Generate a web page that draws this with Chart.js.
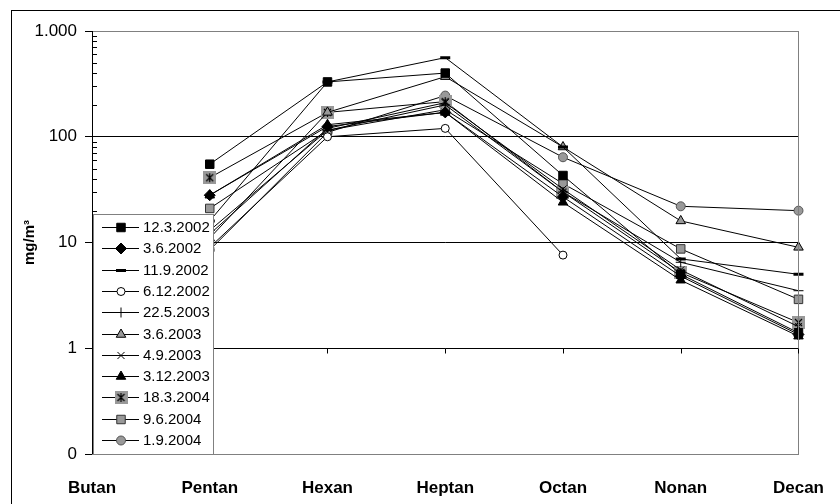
<!DOCTYPE html>
<html>
<head>
<meta charset="utf-8">
<script src="https://cdn.jsdelivr.net/npm/chart.js@4"></script>
<style>
  body { margin: 0; background: #fff; }
  canvas { display: block; }
</style>
</head>
<body>
<canvas id="chart" width="840" height="504"></canvas>
<script>
// categories and values (mg/m3, log axis)
const categories = ['Butan', 'Pentan', 'Hexan', 'Heptan', 'Octan', 'Nonan', 'Decan'];
const yTicks = [0.1, 1, 10, 100, 1000];
const yTickLabels = ['0', '1', '10', '100', '1.000'];

const s120302 = [null, 55, 330, 400, 43, 5.0, 1.4];
const s030602 = [null, 28, 125, 170, 27, 4.8, 1.35];
const s110902 = [null, 16, 330, 560, 80, 7.0, 5.0];
const s061202 = [null, 9, 100, 120, 7.6, null, null];
const s220503 = [null, 13, 115, 200, 30, 6.5, 3.5];
const s030603 = [null, 11, 170, 370, 80, 16, 9];
const s040903 = [null, 12, 120, 210, 32, 5.5, 1.6];
const s031203 = [null, 28, 130, 170, 24, 4.4, 1.3];
const s180304 = [null, 41, 170, 215, 30, 5.2, 1.75];
const s090604 = [null, 21, 115, 180, 36, 8.7, 2.9];
const s010904 = [null, 8.5, 110, 245, 64, 22, 20];

const GRAY = '#999999';
const FONT = "'Liberation Sans', Arial, sans-serif";

// grey box with an asterisk for 18.3.2004
function makeStarBox() {
  const c = document.createElement('canvas');
  c.width = 13; c.height = 13;
  const g = c.getContext('2d');
  g.fillStyle = GRAY;
  g.fillRect(0, 0, 13, 13);
  g.strokeStyle = '#000';
  g.lineWidth = 1.2;
  g.beginPath();
  g.moveTo(3, 3); g.lineTo(10, 10);
  g.moveTo(10, 3); g.lineTo(3, 10);
  g.moveTo(6.5, 2); g.lineTo(6.5, 11);
  g.stroke();
  return c;
}
const starBox = makeStarBox();

function ds(label, data, style, radius, fill, border, bw) {
  return {
    label: label,
    data: data,
    borderColor: '#000',
    borderWidth: 1,
    pointStyle: style,
    pointRadius: radius,
    pointBackgroundColor: fill,
    pointBorderColor: border,
    pointBorderWidth: bw,
    fill: false,
    tension: 0,
    spanGaps: false
  };
}

const datasets = [
  ds('12.3.2002', s120302, 'rect', 6, '#000', '#000', 1),
  ds('3.6.2002', s030602, 'rectRot', 5.5, '#000', '#000', 1),
  ds('11.9.2002', s110902, 'line', 5, '#000', '#000', 3),
  ds('6.12.2002', s061202, 'circle', 4, '#fff', '#000', 1),
  ds('22.5.2003', s220503, 'cross', 5, '#000', '#000', 1),
  ds('3.6.2003', s030603, 'triangle', 5.5, GRAY, '#000', 1),
  ds('4.9.2003', s040903, 'crossRot', 5, '#000', '#000', 1),
  ds('3.12.2003', s031203, 'triangle', 5.5, '#000', '#000', 1),
  ds('18.3.2004', s180304, starBox, 6, GRAY, '#000', 1),
  ds('9.6.2004', s090604, 'rect', 6, GRAY, '#333', 1),
  ds('1.9.2004', s010904, 'circle', 4.5, GRAY, '#555', 1)
];

// frame, plot border, minor ticks, axis crossing at 1 and the inner legend
const decorations = {
  id: 'decorations',
  beforeDraw(chart) {
    const ctx = chart.ctx;
    ctx.save();
    ctx.fillStyle = '#fff';
    ctx.fillRect(0, 0, chart.width, chart.height);
    ctx.strokeStyle = '#000';
    ctx.lineWidth = 1;
    ctx.strokeRect(11.5, 10.5, chart.width + 20, chart.height + 20);
    ctx.restore();
  },
  afterDatasetsDraw(chart) {
    const ctx = chart.ctx;
    const a = chart.chartArea;
    const y = chart.scales.y;
    const x = chart.scales.x;
    ctx.save();
    // plot border
    ctx.strokeStyle = '#808080';
    ctx.lineWidth = 1;
    ctx.strokeRect(Math.round(a.left) + 0.5, Math.round(a.top) + 0.5,
      Math.round(a.right - a.left), Math.round(a.bottom - a.top));
    // y axis line
    ctx.strokeStyle = '#000';
    ctx.beginPath();
    ctx.moveTo(Math.round(a.left) + 0.5, a.top);
    ctx.lineTo(Math.round(a.left) + 0.5, a.bottom);
    // minor ticks inside
    for (let i = 0; i < yTicks.length - 1; i++) {
      for (let k = 2; k <= 9; k++) {
        const py = Math.round(y.getPixelForValue(yTicks[i] * k)) + 0.5;
        ctx.moveTo(a.left, py);
        ctx.lineTo(a.left + 5, py);
      }
    }
    // category ticks on the line at 1
    const y1 = Math.round(y.getPixelForValue(1)) + 0.5;
    categories.forEach((c, i) => {
      const px = Math.round(x.getPixelForValue(i)) + 0.5;
      ctx.moveTo(px, y1);
      ctx.lineTo(px, y1 + 5);
    });
    ctx.stroke();

    // legend box
    const lx = 93, ly = 214, lw = 120, lh = 240;
    ctx.fillStyle = '#fff';
    ctx.fillRect(lx, ly, lw, lh);
    ctx.strokeStyle = '#808080';
    ctx.strokeRect(lx + 0.5, ly + 0.5, lw, lh);
    ctx.font = '15px ' + FONT;
    ctx.textBaseline = 'middle';
    chart.data.datasets.forEach((d, i) => {
      const ey = Math.round(227 + i * 21.3) + 0.5;
      ctx.strokeStyle = '#000';
      ctx.lineWidth = 1;
      ctx.beginPath();
      ctx.moveTo(lx + 9, ey);
      ctx.lineTo(lx + 46, ey);
      ctx.stroke();
      ctx.fillStyle = d.pointBackgroundColor;
      ctx.strokeStyle = d.pointBorderColor;
      ctx.lineWidth = d.pointBorderWidth;
      Chart.helpers.drawPoint(ctx, {
        pointStyle: d.pointStyle, radius: d.pointRadius, rotation: 0, borderWidth: d.pointBorderWidth
      }, lx + 28, ey);
      ctx.fillStyle = '#000';
      ctx.fillText(d.label, lx + 50, ey);
    });
    ctx.restore();
  }
};

new Chart(document.getElementById('chart').getContext('2d'), {
  type: 'line',
  data: { labels: categories, datasets: datasets },
  plugins: [decorations],
  options: {
    responsive: false,
    animation: false,
    layout: { padding: { left: 0, right: 27, top: 31, bottom: 0 } },
    plugins: { legend: { display: false }, tooltip: { enabled: false } },
    scales: {
      x: {
        type: 'category',
        offset: false,
        grid: { display: false },
        border: { display: false },
        ticks: {
          color: '#000', font: { family: FONT, size: 17, weight: 'bold' },
          padding: 16, maxRotation: 0, autoSkip: false
        },
        afterFit(s) { s.height = 50; }
      },
      y: {
        type: 'logarithmic',
        min: 0.1,
        max: 1000,
        afterBuildTicks(s) { s.ticks = yTicks.map(v => ({ value: v })); },
        ticks: {
          color: '#000', font: { family: FONT, size: 17 }, padding: 8,
          callback: (v) => yTickLabels[yTicks.indexOf(v)] ?? ''
        },
        grid: {
          color: (c) => (c.tick && (c.tick.value === 0.1 || c.tick.value === 1000)) ? 'rgba(0,0,0,0)' : '#000',
          tickColor: '#000',
          tickLength: 7,
          lineWidth: 1
        },
        border: { display: false },
        title: {
          display: true, text: 'mg/m³', color: '#000',
          font: { family: FONT, size: 15, weight: 'bold' },
          padding: { top: 21, bottom: 0 }
        },
        afterFit(s) { s.width = 92; }
      }
    }
  }
});
</script>
</body>
</html>
